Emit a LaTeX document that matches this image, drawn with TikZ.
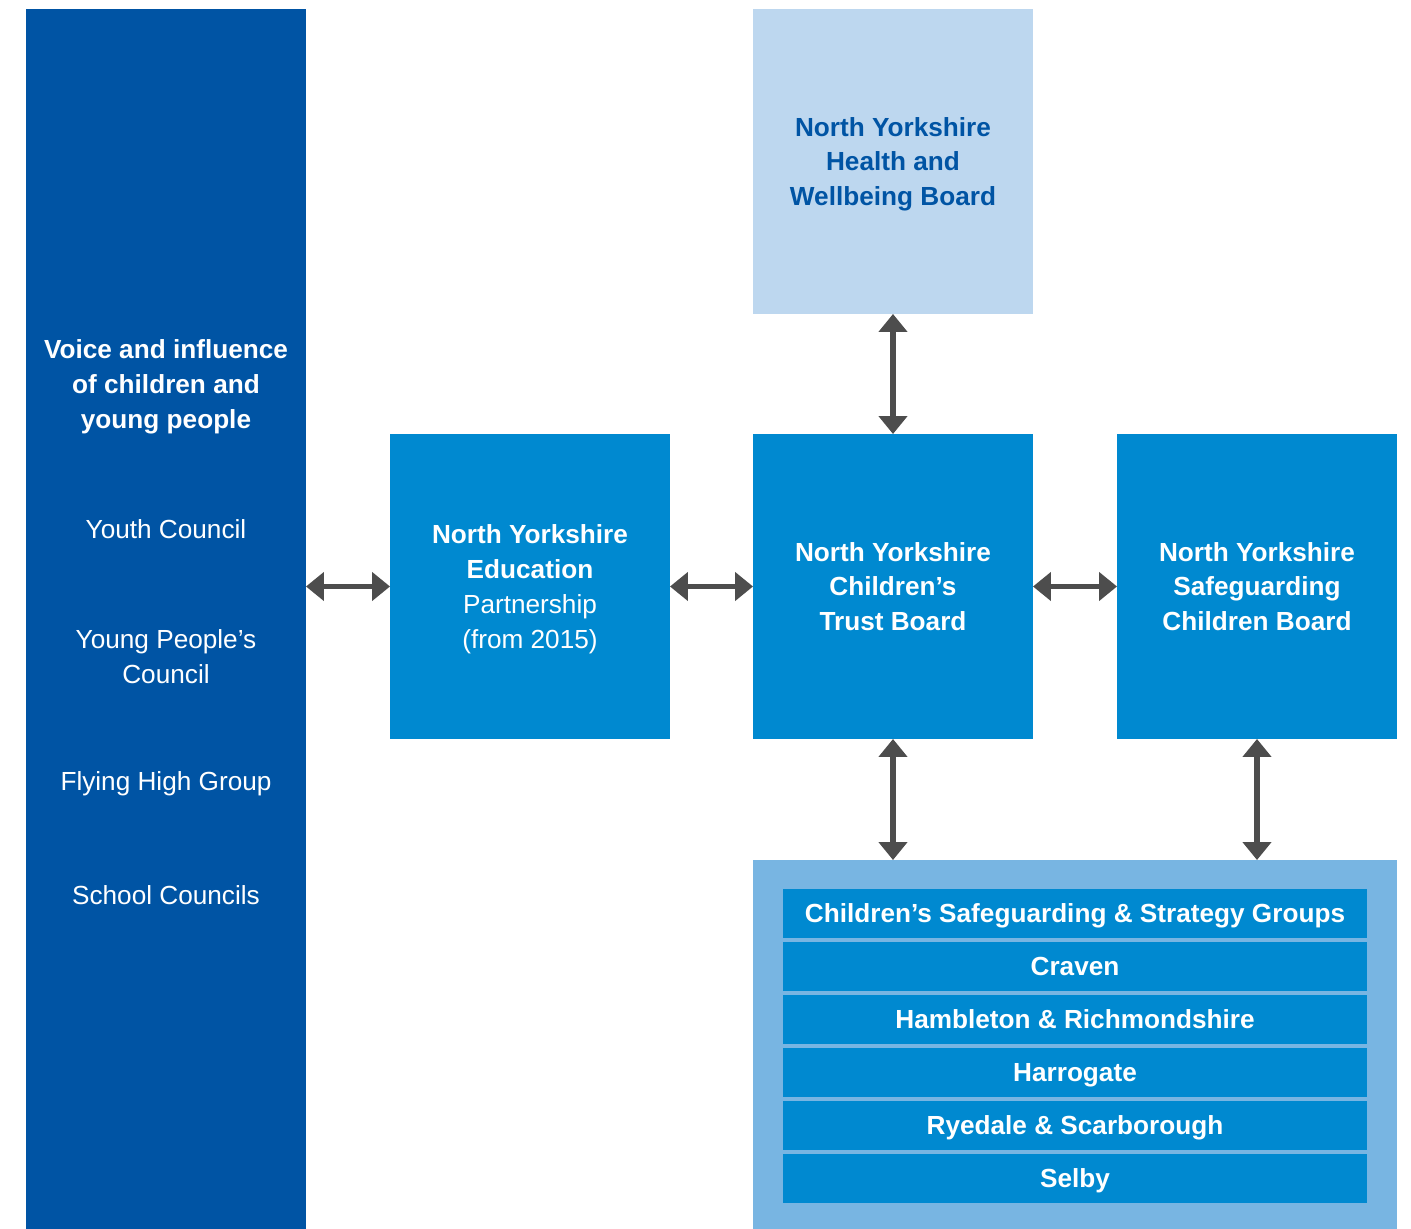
\documentclass[tikz,border=0pt]{standalone}
\usepackage{fontspec}
\setmainfont{Liberation Sans}
\usetikzlibrary{arrows.meta, positioning}

\definecolor{nydark}{RGB}{0,84,164}
\definecolor{nymid}{RGB}{0,137,208}
\definecolor{nylight}{RGB}{189,215,239}
\definecolor{nypale}{RGB}{120,181,226}
\definecolor{nyarrow}{RGB}{77,77,77}

\begin{document}
\begin{tikzpicture}[x=0.02cm, y=-0.02cm,
    every node/.style={inner sep=0pt, outer sep=0pt, align=center,
        font={\fontsize{14.9}{19.9}\selectfont}},
    board/.style={rectangle, fill=nymid, text=white, text depth=-1.5pt,
        minimum width=5.6cm, minimum height=6.1cm},
    grouprow/.style={rectangle, fill=nymid, text=white, text height=10.7pt, text depth=-0.8pt,
        minimum width=11.68cm, minimum height=0.98cm, font={\fontsize{14.9}{19.9}\selectfont\bfseries}},
    voicetext/.style={text=white},
    twoway/.style={draw=nyarrow, line width=0.11cm,
        arrows={Triangle[width=0.56cm,length=0.36cm]-Triangle[width=0.56cm,length=0.36cm]}}]
        \useasboundingbox (0,0) rectangle (1411,1229);

        % left column
        \node[rectangle, fill=nydark, minimum width=5.6cm, minimum height=24.4cm] (voice) at (166,619) {};
        \node[voicetext, text depth=-1.5pt] (voicetitle) at (166,384) {\bfseries Voice and influence\\\bfseries of children and\\\bfseries young people};
        \node[voicetext] (youth) at (166,529) {Youth Council};
        \node[voicetext, text depth=-1.5pt] (young) at (166,656.5) {Young People’s\\Council};
        \node[voicetext] (flying) at (166,784) {Flying High Group};
        \node[voicetext] (school) at (166,895) {School Councils};

        % boards
        \node[board, fill=nylight, text=nydark] (health) at (893,161.5) {\bfseries North Yorkshire\\\bfseries Health and\\\bfseries Wellbeing Board};
        \node[board] (edu) at (530,586.5) {\bfseries North Yorkshire\\\bfseries Education\\Partnership\\(from 2015)};
        \node[board] (trust) at (893,586.5) {\bfseries North Yorkshire\\\bfseries Children’s\\\bfseries Trust Board};
        \node[board] (safe) at (1257,586.5) {\bfseries North Yorkshire\\\bfseries Safeguarding\\\bfseries Children Board};

        % safeguarding and strategy groups
        \node[rectangle, fill=nypale, minimum width=12.88cm, minimum height=7.38cm] (groups) at (1075,1044.5) {};
        \foreach \txt [count=\i] in {Children’s Safeguarding \& Strategy Groups, Craven,
            Hambleton \& Richmondshire, Harrogate, Ryedale \& Scarborough, Selby}
            \node[grouprow] (row\i) at (1075,{860.5+53*\i}) {\txt};

        % connectors
        \draw[twoway] (voice.east |- edu.west) -- (edu.west);
        \draw[twoway] (edu.east) -- (trust.west);
        \draw[twoway] (trust.east) -- (safe.west);
        \draw[twoway] (health.south) -- (trust.north);
        \draw[twoway] (trust.south) -- (trust.south |- groups.north);
        \draw[twoway] (safe.south) -- (safe.south |- groups.north);
    \end{tikzpicture}
\end{document}
